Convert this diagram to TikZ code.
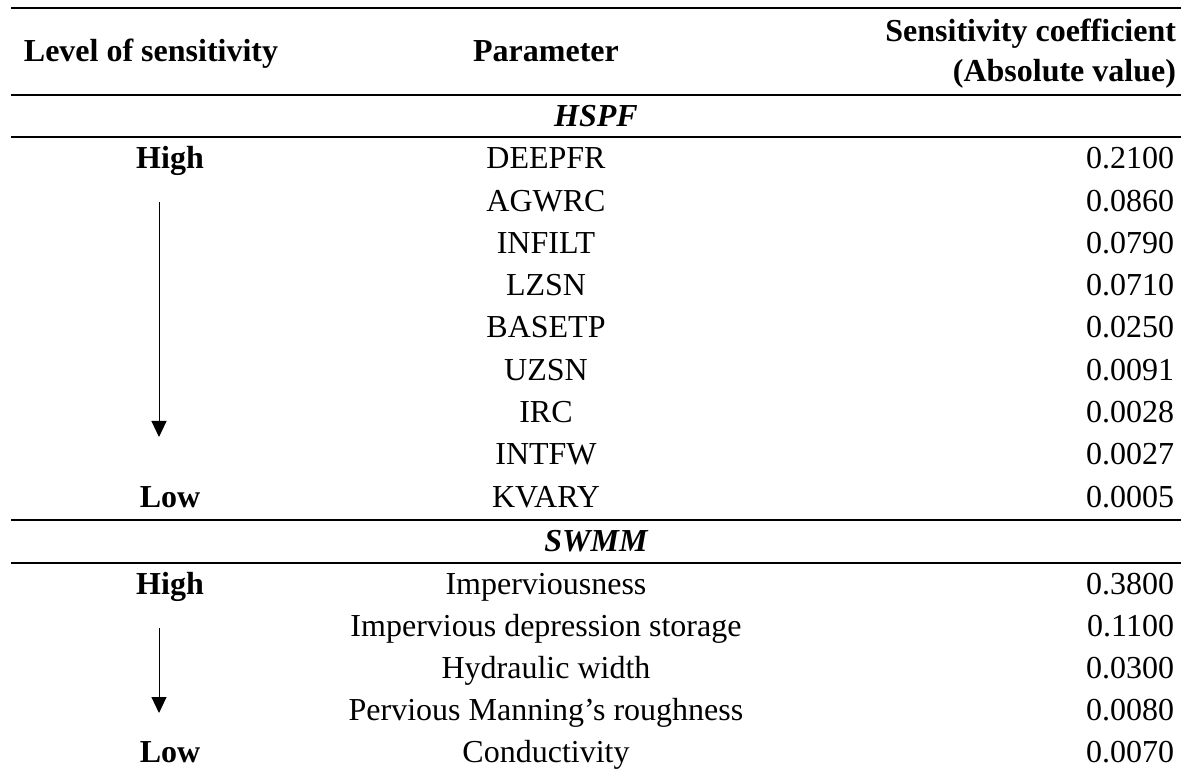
\documentclass[tikz,border=0pt]{standalone}
\usepackage{fontspec}
\setmainfont{Liberation Serif}
\usetikzlibrary{arrows.meta}
\begin{document}
\begin{tikzpicture}[x=1pt,y=-1pt,
  every node/.style={inner sep=0pt,outer sep=0pt,font=\fontsize{32}{38}\selectfont},
  hd/.style={font=\fontsize{32}{38}\selectfont\bfseries,anchor=base},
  grp/.style={font=\fontsize{32}{38}\selectfont\bfseries\itshape,anchor=base},
  lvl/.style={font=\fontsize{32}{38}\selectfont\bfseries,anchor=base},
  par/.style={anchor=base},
  val/.style={anchor=base east},
  rule/.style={line width=1.6pt},
  flow/.style={line width=1pt,-{Triangle[width=15pt,length=16pt]}}]
\useasboundingbox (0,0) rectangle (1181,775);
% rules
\coordinate (r0a) at (11,8);   \coordinate (r0b) at (1181,8);
\coordinate (r1a) at (11,95);  \coordinate (r1b) at (1181,95);
\coordinate (r2a) at (11,137); \coordinate (r2b) at (1181,137);
\coordinate (r3a) at (11,520); \coordinate (r3b) at (1181,520);
\coordinate (r4a) at (11,563); \coordinate (r4b) at (1181,563);
\draw[rule] (r0a) -- (r0b);
\draw[rule] (r1a) -- (r1b);
\draw[rule] (r2a) -- (r2b);
\draw[rule] (r3a) -- (r3b);
\draw[rule] (r4a) -- (r4b);
% header
\node[hd] (hlev) at (151,62) {Level of sensitivity};
\node[hd] (hpar) at (546,62) {Parameter};
\node[hd,anchor=base east] (hsc1) at (1176,42) {Sensitivity coefficient};
\node[hd,anchor=base east] (hsc2) at (1176,82) {(Absolute value)};
% HSPF
\node[grp] (ghspf) at (596,127) {HSPF};
\node[lvl] (hhigh) at (170,169) {High};
\node[lvl] (hlow) at (170,507) {Low};
\foreach \n/\v [count=\i from 0] in {DEEPFR/0.2100,AGWRC/0.0860,INFILT/0.0790,LZSN/0.0710,BASETP/0.0250,UZSN/0.0091,IRC/0.0028,INTFW/0.0027,KVARY/0.0005}{
  \node[par] (hp\i) at (546,169+42.25*\i) {\n};
  \node[val] (hv\i) at (1174,169+42.25*\i) {\v};
}
\coordinate (ha1) at (159,202);
\coordinate (ha2) at (159,437);
\draw[flow] (ha1) -- (ha2);
% SWMM
\node[grp] (gswmm) at (596,551) {SWMM};
\node[lvl] (shigh) at (170,594) {High};
\node[lvl] (slow) at (170,762) {Low};
\foreach \n/\v [count=\i from 0] in {Imperviousness/0.3800,Impervious depression storage/0.1100,Hydraulic width/0.0300,Pervious Manning’s roughness/0.0080,Conductivity/0.0070}{
  \node[par] (sp\i) at (546,594+42*\i) {\n};
  \node[val] (sv\i) at (1174,594+42*\i) {\v};
}
\coordinate (sa1) at (159,628);
\coordinate (sa2) at (159,713);
\draw[flow] (sa1) -- (sa2);
\end{tikzpicture}
\end{document}
